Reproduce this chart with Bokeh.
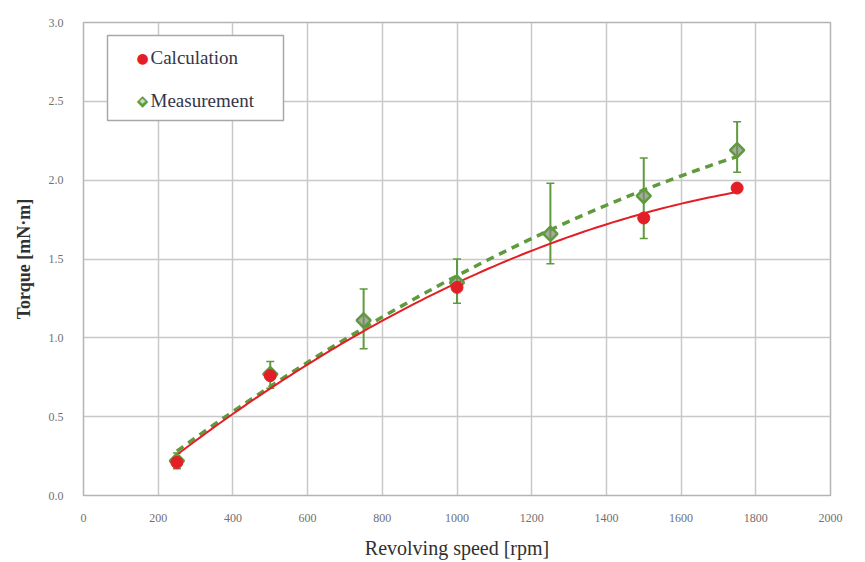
import numpy as np
from bokeh.plotting import figure
from bokeh.models import (ColumnDataSource, Whisker, TeeHead, Label,
                          FixedTicker, NumeralTickFormatter, Range1d, BoxAnnotation)
from bokeh.embed import file_html
from bokeh.resources import INLINE

# Data
calc_speed = [250, 500, 1000, 1500, 1750]
calc_torque = [0.21, 0.76, 1.32, 1.76, 1.95]

meas_speed = [250, 500, 750, 1000, 1250, 1500, 1750]
meas_torque = [0.22, 0.77, 1.11, 1.35, 1.66, 1.90, 2.19]
meas_upper = [0.27, 0.85, 1.31, 1.50, 1.98, 2.14, 2.37]
meas_lower = [0.17, 0.68, 0.93, 1.22, 1.47, 1.63, 2.05]

series_names = ["Calculation", "Measurement"]

x_ticks = [0, 200, 400, 600, 800, 1000, 1200, 1400, 1600, 1800, 2000]
y_ticks = [0.0, 0.5, 1.0, 1.5, 2.0, 2.5, 3.0]

RED = "#e41e26"
GREEN = "#5f9a3d"
SERIF = "Liberation Serif"

p = figure(width=865, height=562, output_backend="svg", toolbar_location=None,
           x_range=Range1d(0, 2000), y_range=Range1d(0, 3.0),
           min_border_left=83, min_border_right=35, min_border_top=22, min_border_bottom=67)

p.outline_line_color = "#b4b4b4"
p.outline_line_width = 1.5
p.background_fill_color = "white"

for ax in (p.xaxis[0], p.yaxis[0]):
    ax.axis_line_color = "#b4b4b4"
    ax.major_tick_line_color = None
    ax.minor_tick_line_color = None
    ax.major_label_text_font = SERIF
    ax.major_label_text_font_size = "12px"
    ax.major_label_text_color = "#707070"
    ax.axis_label_text_font = SERIF
    ax.axis_label_text_font_style = "normal"
    ax.axis_label_text_color = "#303030"

p.xaxis.ticker = FixedTicker(ticks=x_ticks)
p.yaxis.ticker = FixedTicker(ticks=y_ticks)
p.yaxis.formatter = NumeralTickFormatter(format="0.0")
p.xaxis.axis_label = "Revolving speed [rpm]"
p.yaxis.axis_label = "Torque [mN·m]"
p.xaxis.axis_label_text_font_size = "20px"
p.yaxis.axis_label_text_font_size = "18px"
p.yaxis.axis_label_text_font_style = "bold"
p.xaxis.major_label_standoff = 12
p.yaxis.major_label_standoff = 14
p.xaxis.axis_label_standoff = 12
p.yaxis.axis_label_standoff = 12

p.xgrid.ticker = FixedTicker(ticks=x_ticks)
p.ygrid.ticker = FixedTicker(ticks=y_ticks)
p.grid.grid_line_color = "#c8c8c8"
p.grid.grid_line_width = 1.5

# Trendlines (polynomial fits of the data, as in the original spreadsheet chart)
xs_c = np.linspace(min(calc_speed), max(calc_speed), 100)
cc = np.polyfit(calc_speed, calc_torque, 2)
xs_m = np.linspace(min(meas_speed), max(meas_speed), 100)
cm = np.polyfit(meas_speed, meas_torque, 2)

p.line(xs_m, np.polyval(cm, xs_m), line_color=GREEN, line_width=3.5, line_dash="8 6")
p.line(xs_c, np.polyval(cc, xs_c), line_color=RED, line_width=2)

meas_src = ColumnDataSource(dict(x=meas_speed, y=meas_torque, up=meas_upper, lo=meas_lower))
wh = Whisker(source=meas_src, base="x", upper="up", lower="lo",
             line_color=GREEN, line_width=2,
             upper_head=TeeHead(size=8, line_color=GREEN, line_width=1.5),
             lower_head=TeeHead(size=8, line_color=GREEN, line_width=1.5))
p.add_layout(wh)

p.scatter("x", "y", source=meas_src, marker="square", angle=np.pi / 4, size=10,
          fill_color="#7d8a70", fill_alpha=0.7, line_color=GREEN, line_width=2.5)
p.scatter(calc_speed, calc_torque, marker="circle", size=12,
          fill_color=RED, line_color=RED)

# legend (frame, symbols and names)
box = BoxAnnotation(left=107, right=283, top=35, bottom=120,
                    left_units="canvas", right_units="canvas",
                    top_units="canvas", bottom_units="canvas",
                    fill_color="white", fill_alpha=1.0,
                    line_color="#a8a8a8", line_width=1.5, line_alpha=1.0)
p.add_layout(box)

sym_common = dict(x_units="canvas", y_units="canvas", text_align="center",
                  text_baseline="middle", text_font="DejaVu Sans")
p.add_layout(Label(x=142, y=57, text="●", text_color=RED, text_font_size="14px", **sym_common))
p.add_layout(Label(x=142, y=100, text="◆", text_color=GREEN, text_font_size="15px", **sym_common))
p.add_layout(Label(x=142, y=100, text="◆", text_color="#c8dcbc", text_font_size="7px", **sym_common))

for name, yy in zip(series_names, [57, 100]):
    p.add_layout(Label(x=150, y=yy, text=name, x_units="canvas", y_units="canvas",
                       text_align="left", text_baseline="middle",
                       text_font="Times New Roman", text_font_size="19px",
                       text_color="#353548"))

open("out.html", "w").write(file_html(p, INLINE))
